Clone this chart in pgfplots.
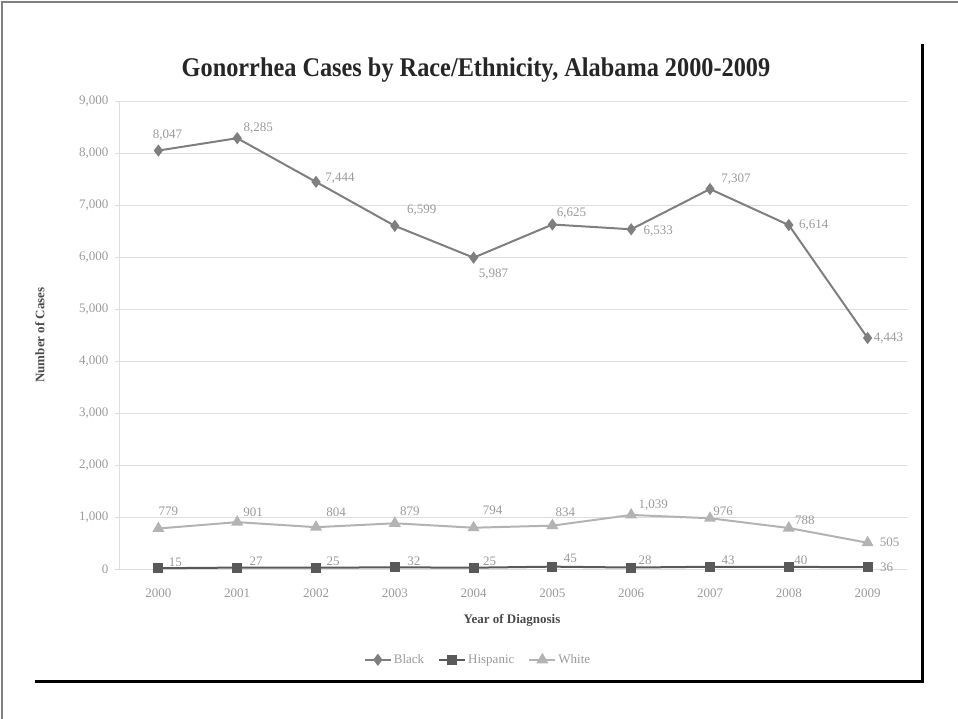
\documentclass[border=0pt]{standalone}
\usepackage{fontspec}
\setmainfont{Liberation Serif}
\usepackage{pgfplots}
\pgfplotsset{compat=1.18}
\usepackage{pgfplotstable}
\definecolor{cBlack}{HTML}{7F7F7F}
\definecolor{cHisp}{HTML}{595959}
\definecolor{cWhite}{HTML}{B3B3B3}
\definecolor{lblgray}{HTML}{9A9A9A}
\definecolor{gridgray}{HTML}{DDDDDD}
\definecolor{titlegray}{HTML}{262626}
\definecolor{axlabgray}{HTML}{4A4A4A}

\pgfplotstableread{
x y dx dy
0 8047 9 15
1 8285 21 10
2 7444 24 4
3 6599 27 16
4 5987 20 -17
5 6625 19 11
6 6533 27 -2
7 7307 26 10
8 6614 25 0
9 4443 21 0
}\blackdata
\pgfplotstableread{
x y dx dy
0 15 17 6
1 27 19 6
2 25 17 6
3 32 19 6
4 25 16 6
5 45 18 8
6 28 14 7
7 43 18 7
8 40 12 7
9 36 19 0
}\hispdata
\pgfplotstableread{
x y dx dy
0 779 10 17
1 901 16 10
2 804 20 15
3 879 15 12
4 794 19 17
5 834 13 13
6 1039 22 10
7 976 13 7
8 788 16 8
9 505 22 0
}\whitedata

\begin{document}
\begin{tikzpicture}
\path[use as bounding box] (0bp,0bp) rectangle (958bp,719bp);
\draw[gray, line width=1.5bp] (2bp,0bp) -- (2bp,717bp) -- (958bp,717bp);
\draw[black, line width=3bp] (35bp,37bp) -- (922bp,37bp) -- (922bp,675bp);
\node[font=\fontsize{27bp}{30bp}\selectfont\bfseries, text=titlegray, xscale=0.9, anchor=center] at (476bp,649bp) {Gonorrhea Cases by Race/Ethnicity, Alabama 2000-2009};
\begin{axis}[
  at={(119bp,150bp)}, anchor=south west,
  width=788bp, height=468bp, scale only axis,
  xmin=-0.5, xmax=9.5, ymin=0, ymax=9000,
  clip=false,
  axis x line=bottom, axis y line=left,
  axis line style={draw=gridgray, line width=0.8bp, -},
  xtick={0,...,9},
  xticklabels={2000,2001,2002,2003,2004,2005,2006,2007,2008,2009},
  x tick style={draw=none},
  ytick={0,1000,...,9000},
  y tick style={draw=gridgray, line width=0.8bp},
  tick align=outside, major tick length=4bp,
  ymajorgrids, grid style={draw=gridgray, line width=0.8bp},
  /pgf/number format/.cd, fixed, precision=0, 1000 sep={,}, assume math mode=true,
  /pgfplots/.cd,
  ticklabel style={font=\fontsize{13bp}{15bp}\selectfont, text=lblgray},
  xticklabel style={yshift=-12bp},
  yticklabel style={xshift=-3bp},
  xlabel={Year of Diagnosis},
  ylabel={Number of Cases},
  every axis x label/.style={at={(axis description cs:0.4987,-0.109)}, anchor=center, font=\fontsize{13bp}{15bp}\selectfont\bfseries, text=axlabgray},
  every axis y label/.style={at={(axis description cs:-0.1003,0.5)}, anchor=center, rotate=90, font=\fontsize{13bp}{15bp}\selectfont\bfseries, text=axlabgray},
  legend columns=3,
  legend style={draw=none, at={(0.4556,-0.194)}, anchor=center, font=\fontsize{13bp}{15bp}\selectfont, text=lblgray, /tikz/every even column/.append style={column sep=12bp}},
  legend image code/.code={\draw[mark repeat=2,mark phase=2] plot coordinates {(0bp,0bp) (13bp,0bp) (26bp,0bp)};},
  nodes near coords,
  every node near coord/.append style={anchor=center, xshift=\dx bp, yshift=\dy bp, font=\fontsize{13bp}{15bp}\selectfont, text=lblgray},
]
\addplot[color=cBlack, line width=2bp, mark=diamond*, mark size=4.5bp, mark options={solid, fill=cBlack},
  visualization depends on={\thisrow{dx}\as\dx}, visualization depends on={\thisrow{dy}\as\dy}]
  table[x=x, y=y] {\blackdata};
\addlegendentry{Black}
\addplot[color=cHisp, line width=2bp, mark=square*, mark size=4bp, mark options={solid, fill=cHisp},
  visualization depends on={\thisrow{dx}\as\dx}, visualization depends on={\thisrow{dy}\as\dy}]
  table[x=x, y=y] {\hispdata};
\addlegendentry{Hispanic}
\addplot[color=cWhite, line width=2bp, mark=triangle*, mark size=5bp, mark options={solid, fill=cWhite},
  visualization depends on={\thisrow{dx}\as\dx}, visualization depends on={\thisrow{dy}\as\dy}]
  table[x=x, y=y] {\whitedata};
\addlegendentry{White}
\end{axis}
\end{tikzpicture}
\end{document}
